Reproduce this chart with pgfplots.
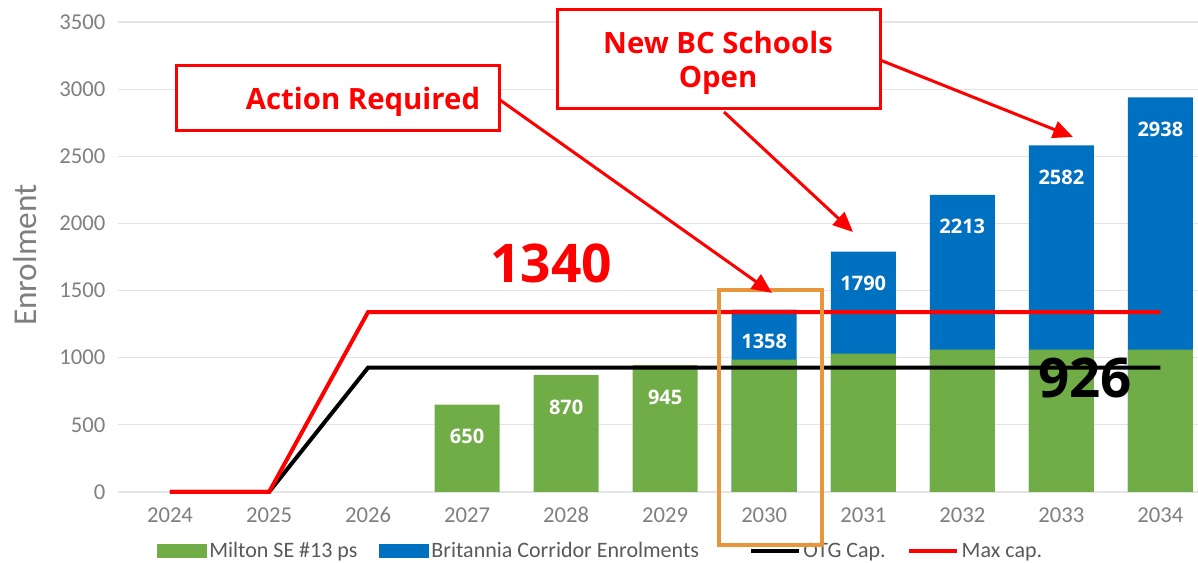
\documentclass[border=0pt]{standalone}
\usepackage{fontspec}
\setmainfont{Carlito}
\newfontfamily\annot{Open Sans}
\usepackage{pgfplots}
\pgfplotsset{compat=1.18}
\usetikzlibrary{arrows.meta}
\definecolor{mgreen}{HTML}{70AD47}
\definecolor{mblue}{HTML}{0070C0}
\definecolor{tickgray}{HTML}{7F7F7F}
\definecolor{leggray}{HTML}{595959}
\definecolor{gridgray}{HTML}{E4E4E4}
\definecolor{obox}{HTML}{E8963C}
\definecolor{ared}{HTML}{FF0000}
\begin{document}
\begin{tikzpicture}
\useasboundingbox (0,0) rectangle (898.5pt,422.25pt);
\begin{axis}[
  at={(88.5pt,53.25pt)}, anchor=south west,
  width=810pt, height=352.5pt, scale only axis,
  xmin=-0.525, xmax=10.38, ymin=0, ymax=3500,
  xtick={0,1,2,3,4,5,6,7,8,9,10},
  xticklabels={2024,2025,2026,2027,2028,2029,2030,2031,2032,2033,2034},
  ytick={0,500,1000,1500,2000,2500,3000,3500},
  ymajorgrids, grid style={gridgray, line width=0.9pt},
  axis line style={draw=none}, major tick length=0pt,
  tick label style={font=\fontsize{17}{20}\selectfont, text=tickgray},
  yticklabel style={xshift=-6pt},
  xticklabel style={yshift=-8pt},
  /pgf/number format/assume math mode=true,
  /pgf/number format/1000 sep={},
  ylabel={Enrolment},
  ylabel style={at={(axis description cs:-0.086,0.504)}, anchor=center, font=\fontsize{25}{30}\selectfont, text=tickgray},
  clip=false,
  bar width=48.75pt,
  legend columns=4,
  legend style={at={(axis description cs:0.447,-0.1255)}, anchor=center, draw=none, fill=none,
     font=\fontsize{16.5}{20}\selectfont, text=leggray,
     /tikz/every even column/.append style={column sep=14pt}},
]
\addlegendimage{legend image code/.code={\fill[mgreen] (0pt,-5pt) rectangle (37pt,5pt);}}
\addlegendentry{Milton SE \#13 ps}
\addlegendimage{legend image code/.code={\fill[mblue] (0pt,-5pt) rectangle (37pt,5pt);}}
\addlegendentry{\makebox[222pt][l]{Britannia Corridor Enrolments}}
\addlegendimage{legend image code/.code={\draw[black, line width=3pt] (0pt,0pt) -- (36pt,0pt);}}
\addlegendentry{OTG Cap.}
\addlegendimage{legend image code/.code={\draw[ared, line width=3pt] (0pt,0pt) -- (36pt,0pt);}}
\addlegendentry{Max cap.}

\addplot[ybar, bar shift=0pt, fill=mblue, draw=none, forget plot,
  nodes near coords,
  nodes near coords style={font=\annot\bfseries\fontsize{15}{18}\selectfont, text=white, anchor=center, yshift=-24pt}]
  coordinates {(6,1358)(7,1790)(8,2213)(9,2582)(10,2938)};
\addplot[ybar, bar shift=0pt, fill=mgreen, draw=none, forget plot,
  nodes near coords,
  nodes near coords style={font=\annot\bfseries\fontsize{15}{18}\selectfont, text=white, anchor=center, yshift=-24pt}]
  coordinates {(3,650)(4,870)(5,945)};
\addplot[ybar, bar shift=0pt, fill=mgreen, draw=none, forget plot]
  coordinates {(6,985)(7,1030)(8,1060)(9,1060)(10,1060)};
\addplot[black, line width=3pt, mark=none, forget plot]
  coordinates {(0,0)(1,0)(2,926)(3,926)(4,926)(5,926)(6,926)(7,926)(8,926)(9,926)(10,926)};
\addplot[ared, line width=3pt, mark=none, forget plot]
  coordinates {(0,0)(1,0)(2,1340)(3,1340)(4,1340)(5,1340)(6,1340)(7,1340)(8,1340)(9,1340)(10,1340)};
\end{axis}
\begin{scope}[shift={(0pt,422.25pt)}, x=0.75pt, y=-0.75pt]
  % orange highlight box
  \draw[obox, line width=3pt] (719,290) rectangle (822,545);
  % Action Required
  \draw[ared, line width=2.25pt, fill=white] (176,66) rectangle (499,131);
  \node[text=ared, font=\annot\bfseries\fontsize{22}{26}\selectfont] at (363,102) {Action Required};
  \draw[ared, line width=2.25pt, -{Triangle[length=15pt,width=13pt]}] (500,100) -- (772,293);
  % New BC Schools Open
  \draw[ared, line width=2.25pt, fill=white] (557,10) rectangle (880,109);
  \node[text=ared, font=\annot\bfseries\fontsize{22}{25}\selectfont, align=center] at (718,63) {New BC Schools\\Open};
  \draw[ared, line width=2.25pt, -{Triangle[length=15pt,width=13pt]}] (724,112) -- (853,232);
  \draw[ared, line width=2.25pt, -{Triangle[length=15pt,width=13pt]}] (880,60) -- (1073,137);
  % big numbers
  \node[text=ared, font=\annot\bfseries\fontsize{40}{44}\selectfont] at (551,263) {1340};
  \node[text=black, font=\annot\bfseries\fontsize{41}{45}\selectfont] at (1085,378) {926};
\end{scope}
\end{tikzpicture}
\end{document}
